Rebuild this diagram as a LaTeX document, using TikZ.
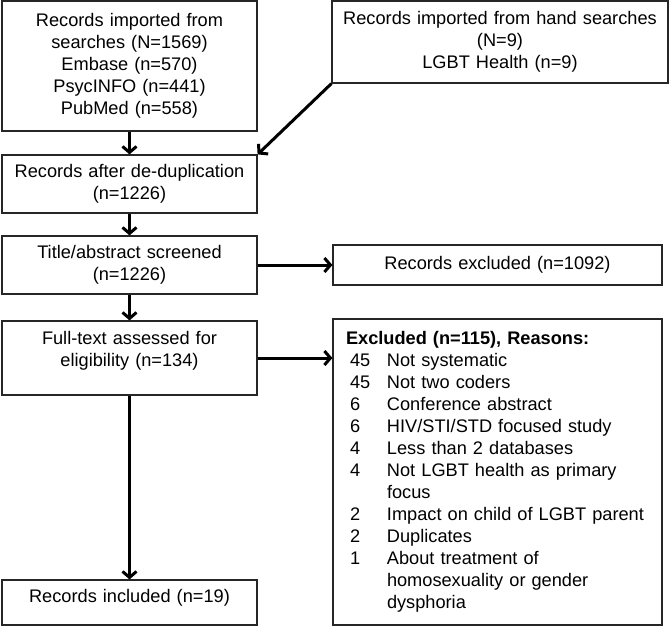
\documentclass[tikz,border=0pt]{standalone}
\usepackage{fontspec}
\setmainfont{Liberation Sans}
\usepackage{tikz}
\usetikzlibrary{arrows.meta}

\tikzset{
	record/.style={rectangle, draw=black!85, line width=1.2pt, align=center, text width=245pt, inner xsep=5pt, minimum width=255pt},
	post/.style={-{Straight Barb[length=6pt,width=14pt]}, line width=3pt},
	pre/.style={{Straight Barb[length=6pt,width=14pt]}-, line width=3pt}
}

\begin{document}
\begin{tikzpicture}[x=1pt, y=-1pt, font=\fontsize{18.2}{22}\selectfont]
	\useasboundingbox (0,0) rectangle (669,627);
	\node [record, minimum height=130pt]	(Searches)	at (129.5,66)	{Records imported from\\searches (N=1569)\\Embase (n=570)\\PsycINFO (n=441)\\PubMed (n=558)};
	\node [record, text width=326pt, minimum width=336pt, minimum height=82pt]	(Hand)	at (500,42)	{Records imported from hand searches\\(N=9)\\LGBT Health (n=9)};
	\node [record, minimum height=58pt]	(Dedup)	at (129.5,184)	{Records after de-duplication\\(n=1226)}
		edge [pre]	(Searches);
	\draw [post] (Hand.south west) -- (Dedup.north east);
	\node [record, minimum height=58pt]	(Screened)	at (129.5,265)	{Title/abstract screened\\(n=1226)}
		edge [pre]	(Dedup);
	\node [record, text width=319pt, minimum width=329pt, minimum height=40pt]	(Excluded)	at (497.5,265)	{Records excluded (n=1092)}
		edge [pre]	(Screened);
	\node [record, minimum height=74pt]	(Fulltext)	at (129.5,358)	{Full-text assessed for\\eligibility (n=134)\\[-3pt]\mbox{}}
		edge [pre]	(Screened);
	\node [record, align=left, text width=303pt, inner xsep=13pt, inner ysep=10pt, minimum width=329pt, minimum height=306pt]	(Reasons)	at (497.5,472)	{%
		\begin{tabular}{@{\hspace{4pt}}p{37pt}@{}l@{}}
			\multicolumn{2}{@{}l@{}}{\bfseries Excluded (n=115), Reasons:}\\
			45 & Not systematic\\
			45 & Not two coders\\
			6 & Conference abstract\\
			6 & HIV/STI/STD focused study\\
			4 & Less than 2 databases\\
			4 & Not LGBT health as primary\\
			  & focus\\
			2 & Impact on child of LGBT parent\\
			2 & Duplicates\\
			1 & About treatment of\\
			  & homosexuality or gender\\
			  & dysphoria
		\end{tabular}};
	\draw [post] (Fulltext.east) -- (Fulltext.east -| Reasons.west);
	\node [record, minimum height=45pt, text depth=13pt]	(Included)	at (129.5,602.5)	{Records included (n=19)}
		edge [pre]	(Fulltext);
\end{tikzpicture}
\end{document}
